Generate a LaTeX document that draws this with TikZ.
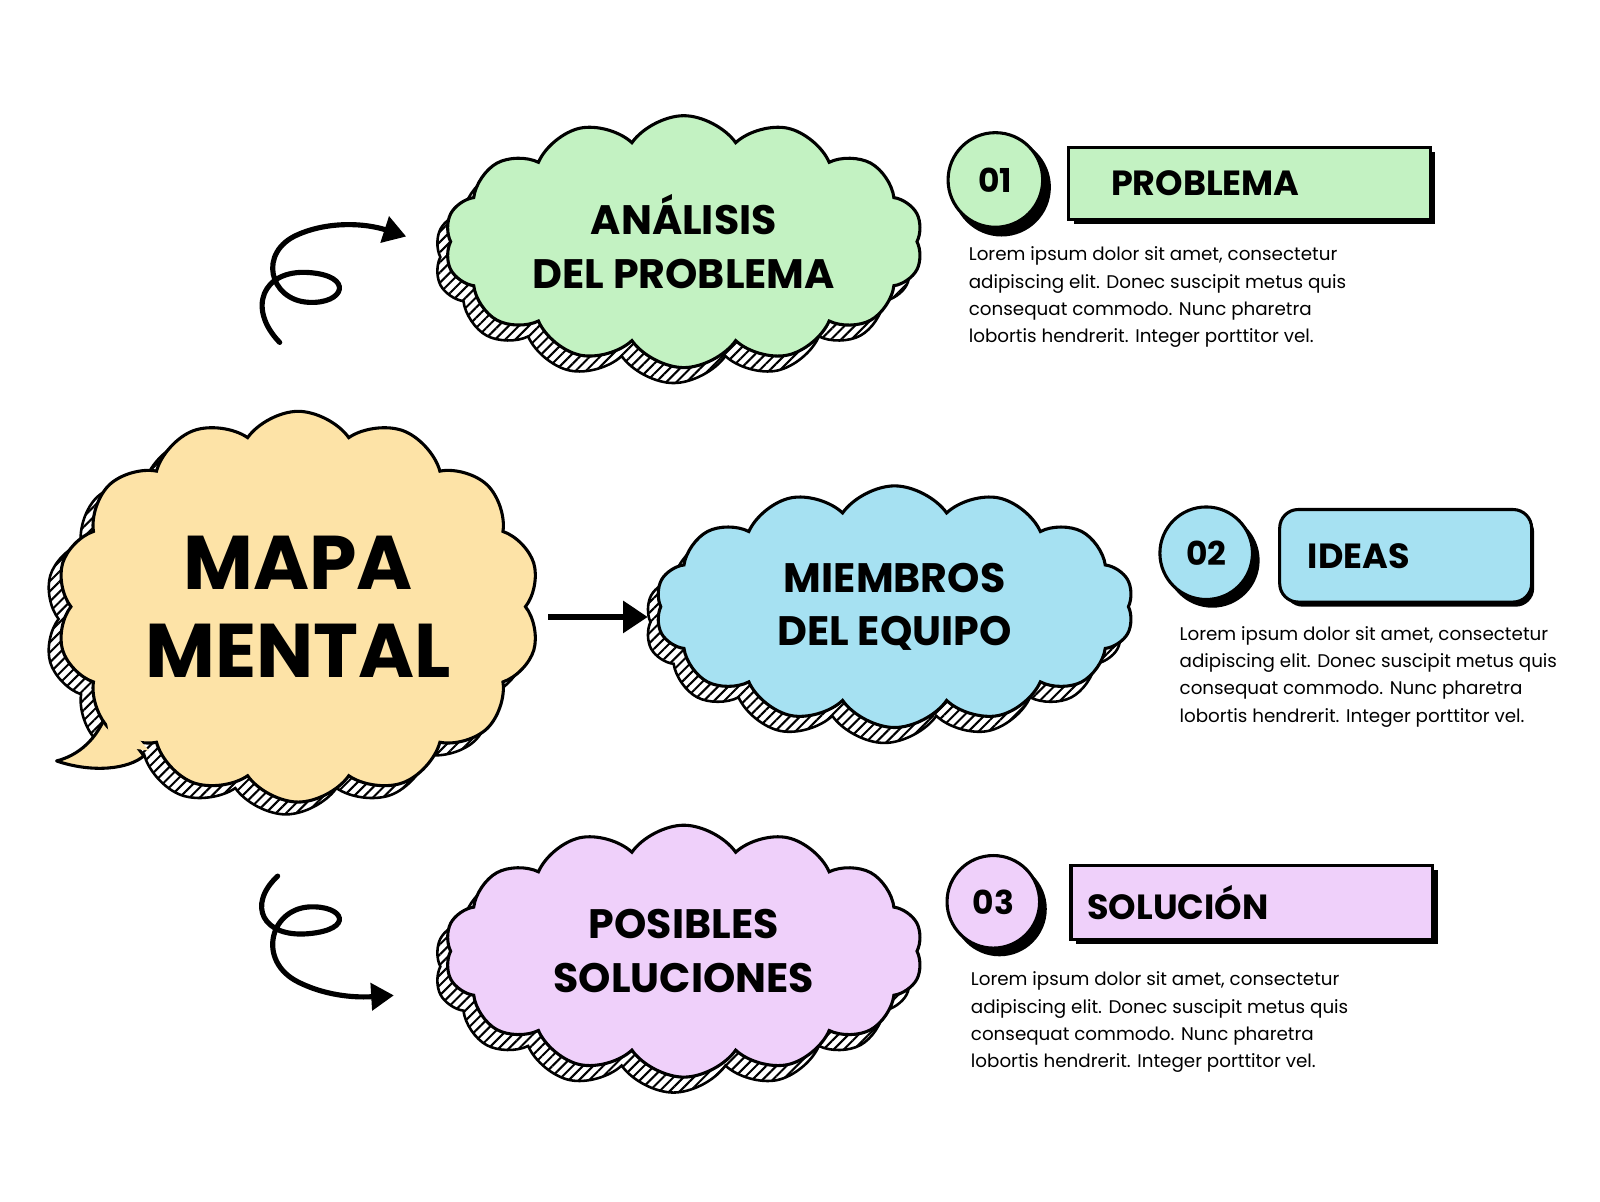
\documentclass[tikz,border=0pt]{standalone}
\usepackage{fontspec}
\setmainfont{Poppins}
\usetikzlibrary{shapes.symbols,patterns.meta,arrows.meta}
\definecolor{cgreen}{HTML}{C3F2C2}
\definecolor{cyellow}{HTML}{FDE3A7}
\definecolor{cblue}{HTML}{A6E1F2}
\definecolor{cpurple}{HTML}{EFD0FA}
\begin{document}
\begin{tikzpicture}[x=1pt,y=-1pt,
  cl/.style={cloud,cloud puffs=14,cloud puff arc=110,cloud ignores aspect=false,draw=black,line width=3pt,inner sep=0pt},
  ct/.style={align=center,font=\bfseries\fontsize{40}{52}\selectfont},
  sh/.style={cl,line width=2.5pt,fill=white,postaction={pattern={Lines[angle=45,distance=7pt,line width=2pt]}}},
  num/.style={circle,draw=black,line width=3pt,minimum size=92pt,font=\bfseries\fontsize{32}{36}\selectfont},
  bar/.style={draw=black,line width=3pt,anchor=north west,font=\bfseries\fontsize{34}{40}\selectfont,align=left,inner xsep=40pt},
  body/.style={anchor=north west,align=left,font=\fontsize{17.8}{26.5}\selectfont,inner sep=0pt},
  arr/.style={line width=6pt,-{Triangle[length=24pt,width=30pt]}}]
\useasboundingbox[fill=white] (0,0) rectangle (1556,1168);
% shadows
\node[sh,aspect=1.85,minimum width=465pt,minimum height=245pt] (s1) at (655,250) {};
\node[sh,aspect=1.23,minimum width=470pt,minimum height=380pt] (s2) at (278,602) {};
\node[sh,aspect=1.95,minimum width=465pt,minimum height=235pt] (s3) at (860,605) {};
\node[sh,aspect=1.85,minimum width=465pt,minimum height=245pt] (s4) at (655,940) {};
% clouds
\node[cl,fill=cgreen,aspect=1.85,minimum width=465pt,minimum height=245pt] (c1) at (665,235) {};
\node[ct] (c1t) at (c1) {ANÁLISIS\\DEL PROBLEMA};
\coordinate (tailA) at (105,690);
\coordinate (tailB) at (140,735);
\draw[line width=3pt,fill=cyellow,line join=round] (tailA) .. controls (95,720) and (75,735) .. (55,740) .. controls (90,752) and (125,748) .. (tailB) -- cycle;
\node[cl,fill=cyellow,aspect=1.23,minimum width=470pt,minimum height=380pt] (c2) at (290,590) {};
\fill[cyellow] (100,680) -- (108,725) -- (145,730) -- cycle;
\node[ct,font=\bfseries\fontsize{74}{86}\selectfont] (c2t) at (c2) {MAPA\\MENTAL};
\node[cl,fill=cblue,aspect=1.95,minimum width=465pt,minimum height=235pt] (c3) at (870,590) {};
\node[ct] (c3t) at (c3) {MIEMBROS\\DEL EQUIPO};
\node[cl,fill=cpurple,aspect=1.85,minimum width=465pt,minimum height=245pt] (c4) at (665,925) {};
\node[ct] (c4t) at (c4) {POSIBLES\\SOLUCIONES};
% numbers
\fill (974,182) circle (48pt);
\node[num,fill=cgreen] (n1) at (968,175) {01};
\fill (1179,545) circle (46pt);
\node[num,fill=cblue,minimum size=90pt] (n2) at (1173,538) {02};
\fill (972,884) circle (46pt);
\node[num,fill=cpurple,minimum size=90pt] (n3) at (966,877) {03};
% bars
\fill (1044,148) rectangle (1396,218);
\node[bar,fill=cgreen,minimum width=352pt,minimum height=70pt,text width=270pt] (b1) at (1038,142) {PROBLEMA};
\fill[rounded corners=18pt] (1249,500) rectangle (1492,590);
\node[bar,fill=cblue,rounded corners=18pt,minimum width=245pt,minimum height=90pt,text width=190pt,inner xsep=14pt] (b2) at (1243,494) {IDEAS};
\fill (1046,846) rectangle (1398,918);
\node[bar,fill=cpurple,minimum width=352pt,minimum height=72pt,text width=320pt,inner xsep=14pt] (b3) at (1040,840) {SOLUCIÓN};
% texts
\node[body] (t1) at (942,240) {Lorem ipsum dolor sit amet, consectetur\\adipiscing elit. Donec suscipit metus quis\\consequat commodo. Nunc pharetra\\lobortis hendrerit. Integer porttitor vel.};
\node[body] (t2) at (1147,609) {Lorem ipsum dolor sit amet, consectetur\\adipiscing elit. Donec suscipit metus quis\\consequat commodo. Nunc pharetra\\lobortis hendrerit. Integer porttitor vel.};
\node[body] (t3) at (944,945) {Lorem ipsum dolor sit amet, consectetur\\adipiscing elit. Donec suscipit metus quis\\consequat commodo. Nunc pharetra\\lobortis hendrerit. Integer porttitor vel.};
% arrows
\coordinate (a1) at (533,600);
\coordinate (a2) at (630,600);
\draw[arr] (a1) -- (a2);
\coordinate (p0) at (272,333);
\coordinate (p1) at (395,230);
\draw[line width=5pt,line cap=round,-{Triangle[length=22pt,width=26pt]}] (p0) .. controls (240,300) and (255,262) .. (300,265) .. controls (345,268) and (335,296) .. (300,294) .. controls (262,292) and (250,245) .. (290,228) .. controls (320,215) and (355,217) .. (p1);
\coordinate (q0) at (270,852);
\coordinate (q1) at (383,968);
\draw[line width=5pt,line cap=round,-{Triangle[length=22pt,width=26pt]}] (q0) .. controls (240,880) and (255,912) .. (300,908) .. controls (345,904) and (335,880) .. (300,882) .. controls (262,885) and (250,935) .. (290,955) .. controls (320,970) and (350,970) .. (q1);
\end{tikzpicture}
\end{document}
